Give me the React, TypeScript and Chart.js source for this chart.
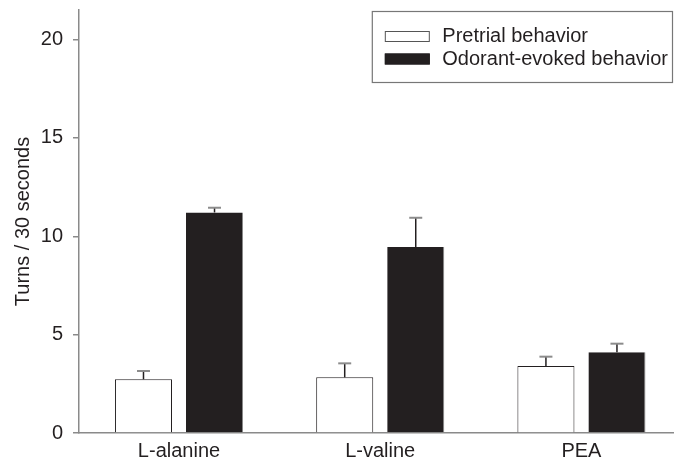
import React, { useEffect, useRef } from "react";
import { Chart, registerables } from "chart.js";

Chart.register(...registerables);

const categories = ["L-alanine", "L-valine", "PEA"];
const seriesNames = ["Pretrial behavior", "Odorant-evoked behavior"];
const pretrial = [2.73, 2.83, 3.4];
const pretrialErr = [0.42, 0.71, 0.48];
const evoked = [11.21, 9.45, 4.1];
const evokedErr = [0.24, 1.49, 0.44];
const yTicks = [0, 5, 10, 15, 20];
const yMax = 21.5;
const yTitle = "Turns / 30 seconds";

const FONT = "'Liberation Sans', Arial, Helvetica, sans-serif";
const INK = "#231f20";
const AXIS = "#8a8a8a";

const errorBarPlugin = {
  id: "errorBars",
  afterDatasetsDraw(chart: any) {
    const ctx = chart.ctx;
    const yScale = chart.scales.y;
    chart.data.datasets.forEach((ds: any, di: number) => {
      const meta = chart.getDatasetMeta(di);
      meta.data.forEach((el: any, i: number) => {
        const v = ds.data[i].y;
        const e = ds.errors[i];
        const yTop = yScale.getPixelForValue(v);
        const yErr = yScale.getPixelForValue(v + e);
        ctx.save();
        ctx.strokeStyle = INK;
        ctx.lineWidth = 1.5;
        ctx.beginPath();
        ctx.moveTo(el.x, yTop);
        ctx.lineTo(el.x, yErr);
        ctx.stroke();
        ctx.strokeStyle = "#8c8c8c";
        ctx.lineWidth = 2;
        ctx.beginPath();
        ctx.moveTo(el.x - 6.5, yErr);
        ctx.lineTo(el.x + 6.5, yErr);
        ctx.stroke();
        ctx.restore();
      });
    });
  },
};

const boxLegendPlugin = {
  id: "boxLegend",
  afterDraw(chart: any) {
    const ctx = chart.ctx;
    const area = chart.chartArea;
    ctx.save();
    ctx.font = `20px ${FONT}`;
    const items = chart.data.datasets.map((d: any) => ({
      label: d.label,
      fill: d.backgroundColor,
      stroke: d.legendStroke,
    }));
    const maxW = Math.max(...items.map((it: any) => ctx.measureText(it.label).width));
    const padL = 12.5, sw = 45, gap = 12.5, padR = 4.5;
    const right = area.right - 0.5;
    const top = area.top + 1.5;
    const left = right - (padL + sw + gap + maxW + padR);
    const height = 71;
    ctx.strokeStyle = "#777";
    ctx.lineWidth = 1.2;
    ctx.strokeRect(left, top, right - left, height);
    const rows = [top + 25, top + 47.5];
    items.forEach((it: any, i: number) => {
      const cy = rows[i];
      ctx.fillStyle = it.fill;
      ctx.fillRect(left + padL, cy - 5.5, sw, 11);
      ctx.strokeStyle = it.stroke;
      ctx.lineWidth = 1;
      ctx.strokeRect(left + padL + 0.5, cy - 5, sw - 1, 10);
      ctx.fillStyle = INK;
      ctx.textBaseline = "middle";
      ctx.textAlign = "left";
      ctx.fillText(it.label, left + padL + sw + gap, cy);
    });
    ctx.restore();
  },
};

export default function App() {
  const ref = useRef<HTMLCanvasElement | null>(null);

  useEffect(() => {
    if (!ref.current) return;
    Chart.defaults.font.family = FONT;
    const chart = new Chart(ref.current, {
      type: "bar",
      data: {
        datasets: [
          {
            label: seriesNames[0],
            data: pretrial.map((v, i) => ({ x: i, y: v })),
            errors: pretrialErr,
            backgroundColor: "#ffffff",
            borderColor: INK,
            borderWidth: { top: 1, left: 1, right: 1, bottom: 0 },
            legendStroke: "#555",
            barPercentage: 0.803,
            categoryPercentage: 0.706,
          } as any,
          {
            label: seriesNames[1],
            data: evoked.map((v, i) => ({ x: i, y: v })),
            errors: evokedErr,
            backgroundColor: INK,
            borderColor: "#8a8a8a",
            borderWidth: { top: 0, left: 0, right: 1, bottom: 0 },
            legendStroke: INK,
            barPercentage: 0.803,
            categoryPercentage: 0.706,
          } as any,
        ],
      },
      options: {
        responsive: false,
        animation: false,
        layout: { padding: { top: 10, right: 1, bottom: 0, left: 0 } },
        plugins: {
          legend: { display: false },
          tooltip: { enabled: false },
        },
        scales: {
          x: {
            type: "linear",
            min: -0.497,
            max: 2.455,
            offset: false,
            grid: { display: false, drawTicks: false },
            border: { display: true, color: AXIS, width: 1.5 },
            afterBuildTicks: (scale: any) => {
              scale.ticks = categories.map((_, i) => ({ value: i }));
            },
            afterFit: (scale: any) => {
              scale.height = 35;
              scale.paddingLeft = 0;
              scale.paddingRight = 0;
            },
            ticks: {
              padding: 6,
              color: INK,
              font: { size: 20, family: FONT },
              maxRotation: 0,
              autoSkip: false,
              callback: (v: any) => categories[v] ?? "",
            },
          },
          y: {
            min: 0,
            max: yMax,
            grid: {
              display: true,
              drawOnChartArea: false,
              drawTicks: true,
              tickLength: 6,
              color: AXIS,
              lineWidth: 1.5,
            },
            border: { display: true, color: AXIS, width: 1.5 },
            afterBuildTicks: (scale: any) => {
              scale.ticks = yTicks.map((v) => ({ value: v }));
            },
            afterFit: (scale: any) => {
              scale.width = 79;
              scale.paddingTop = 0;
              scale.paddingBottom = 0;
            },
            ticks: {
              padding: 10,
              color: INK,
              font: { size: 20, family: FONT },
            },
            title: {
              display: true,
              text: yTitle,
              color: INK,
              font: { size: 20, family: FONT },
              padding: { top: 11, bottom: 0 },
            },
          },
        },
      } as any,
      plugins: [errorBarPlugin, boxLegendPlugin],
    });
    return () => chart.destroy();
  }, []);

  return (
    <div style={{ position: "absolute", left: 0, top: 0, width: 674, height: 468, background: "#fff" }}>
      <canvas ref={ref} width={674} height={468} style={{ display: "block" }} />
    </div>
  );
}
